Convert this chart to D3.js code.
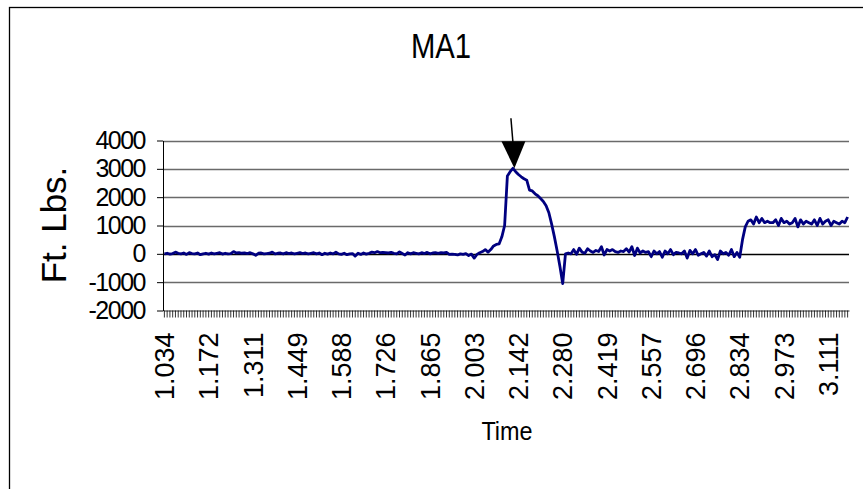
<!DOCTYPE html>
<html>
<head>
<meta charset="utf-8">
<script src="https://cdn.jsdelivr.net/npm/d3@7"></script>
<style>
  body { margin: 0; background: #fff; }
  text { font-family: "Liberation Sans", Arial, sans-serif; fill: #000; }
</style>
</head>
<body>
<svg width="863" height="489"></svg>
<script>
// tick labels shown on the category axis (one every 16 samples)
var timeLabels = ["1.034", "1.172", "1.311", "1.449", "1.588", "1.726", "1.865", "2.003",
                  "2.142", "2.280", "2.419", "2.557", "2.696", "2.834", "2.973", "3.111"];
var labelEvery = 16;
var yTicks = [-2000, -1000, 0, 1000, 2000, 3000, 4000];

// torque samples, ft-lbs
var torque = [
    0, 20, -10, 10, 60, 20, 0, 30, -20, 40,
    10, 0, 30, -30, 0, 20, -10, 30, 0, 20,
    40, -10, 20, 0, 10, 80, 30, 40, 20, 30,
    10, 40, 0, -50, 20, 30, 0, 10, 20, 60,
    0, 20, 30, 0, 40, 10, 30, 0, 20, 40,
    10, 30, 0, 20, 40, 0, 30, -30, 20, -10,
    30, 0, 60, 0, -20, 20, -30, 0, 10, -80,
    20, -20, 30, -10, 20, 60, 40, 80, 40, 50,
    40, 30, 50, 20, 0, 70, 10, -40, 40, 0,
    40, 20, 0, 40, 10, 50, 0, 30, 40, 20,
    40, 30, 50, -20, -10, -20, -40, 0, -20, 10,
    -60, -10, -150, -20, 40, 80, 150, 60, 150, 280,
    330, 350, 600, 1000, 2750, 2900, 3020, 2900, 2800, 2720,
    2650, 2600, 2250, 2220, 2120, 2050, 1950, 1850, 1700, 1450,
    1050, 600, 100, -450, -1050, 0, 30, 0, 150, -20,
    200, 60, 20, 180, 100, 50, 120, 80, 250, -40,
    150, 100, 150, 80, 50, 100, 80, 180, 60, 250,
    -60, 200, 30, 100, 50, 80, -100, 100, 0, 80,
    -120, 100, 0, 150, -30, 50, 30, 0, 100, -150,
    120, 0, 150, -50, 0, 50, -80, 100, -100, -30,
    -200, 100, 0, 50, -50, 150, -100, 50, -120, 500,
    950, 1150, 1200, 1050, 1300, 1100, 1250, 1100, 1150, 1100,
    1100, 1200, 1000, 1250, 1100, 1150, 1050, 1100, 1250, 950,
    1200, 1050, 1150, 1100, 1050, 1200, 1000, 1250, 1050, 1150,
    1200, 1000, 1150, 1100, 1050, 1150, 1100, 1300
];

var svg = d3.select("svg");
var plotLeft = 163, plotRight = 849, plotTop = 140.5, plotBottom = 310.5;

// outer frame (runs off the right and bottom of the picture)
svg.append("rect")
    .attr("x", 9.5).attr("y", 7.5)
    .attr("width", 900).attr("height", 520)
    .attr("fill", "#fff")
    .attr("stroke", "#000")
    .attr("stroke-width", 1.3);

var x = d3.scaleBand()
    .domain(d3.range(torque.length))
    .range([plotLeft, plotRight])
    .padding(0);
var y = d3.scaleLinear()
    .domain([-2000, 4000])
    .range([plotBottom, plotTop]);

function cx(i) { return x(i) + x.bandwidth() / 2; }

// gridlines
svg.append("g")
    .selectAll("line")
    .data(yTicks.filter(function(d) { return d > -2000; }))
    .enter().append("line")
    .attr("x1", plotLeft).attr("x2", plotRight)
    .attr("y1", function(d) { return Math.round(y(d)) + 0.5; })
    .attr("y2", function(d) { return Math.round(y(d)) + 0.5; })
    .attr("stroke", function(d) { return d === 0 ? "#000" : "#6a6a6a"; })
    .attr("stroke-width", 1.3);

// y axis (plain hyphen for negatives, like the original)
var yAxis = svg.append("g")
    .attr("transform", "translate(" + plotLeft + ",0)")
    .call(d3.axisLeft(y)
        .tickValues(yTicks)
        .tickFormat(function(d) { return String(d); })
        .tickSize(6).tickSizeOuter(0).tickPadding(12));
yAxis.selectAll("text")
    .style("font-size", "25px")
    .style("letter-spacing", "-1.5px");
yAxis.selectAll("line, path").attr("stroke", "#000");

// x axis, one tick per sample
var xAxis = svg.append("g")
    .attr("transform", "translate(0," + plotBottom + ")")
    .call(d3.axisBottom(x)
        .tickSize(7)
        .tickSizeOuter(0)
        .tickFormat(function(d) {
            return d % labelEvery === 0 ? timeLabels[d / labelEvery] : "";
        }));
xAxis.selectAll("line, path").attr("stroke", "#000").attr("stroke-width", 0.8);
xAxis.selectAll("text")
    .style("font-size", "27px")
    .attr("text-anchor", "end")
    .attr("transform", "rotate(-90)")
    .attr("x", -22)
    .attr("y", 0)
    .attr("dy", "0.36em");

// trace
var line = d3.line()
    .x(function(d, i) { return cx(i); })
    .y(function(d) { return y(d); });
svg.append("path")
    .datum(torque)
    .attr("d", line)
    .attr("fill", "none")
    .attr("stroke", "#000080")
    .attr("stroke-width", 2.8)
    .attr("stroke-linejoin", "round");

// arrow pointing at the peak
var peak = d3.maxIndex(torque);
var tipX = cx(peak) + 1.5, tipY = y(torque[peak]);
svg.append("line")
    .attr("x1", tipX - 3.5).attr("y1", tipY - 50)
    .attr("x2", tipX - 1.5).attr("y2", tipY - 26)
    .attr("stroke", "#000").attr("stroke-width", 1.5);
svg.append("path")
    .attr("d", "M" + (tipX - 13) + "," + (tipY - 27) + "L" + (tipX + 11) + "," + (tipY - 27) + "L" + tipX + "," + tipY + "Z")
    .attr("fill", "#000");

// titles
svg.append("text")
    .attr("transform", "translate(441,58) scale(0.86,1.05)")
    .attr("text-anchor", "middle")
    .style("font-size", "34px")
    .text("MA1");
svg.append("text")
    .attr("transform", "translate(66,225) rotate(-90)")
    .attr("text-anchor", "middle")
    .style("font-size", "35px")
    .text("Ft. Lbs.");
svg.append("text")
    .attr("transform", "translate(507,440) scale(0.9,1)")
    .attr("text-anchor", "middle")
    .style("font-size", "26px")
    .text("Time");
</script>
</body>
</html>
